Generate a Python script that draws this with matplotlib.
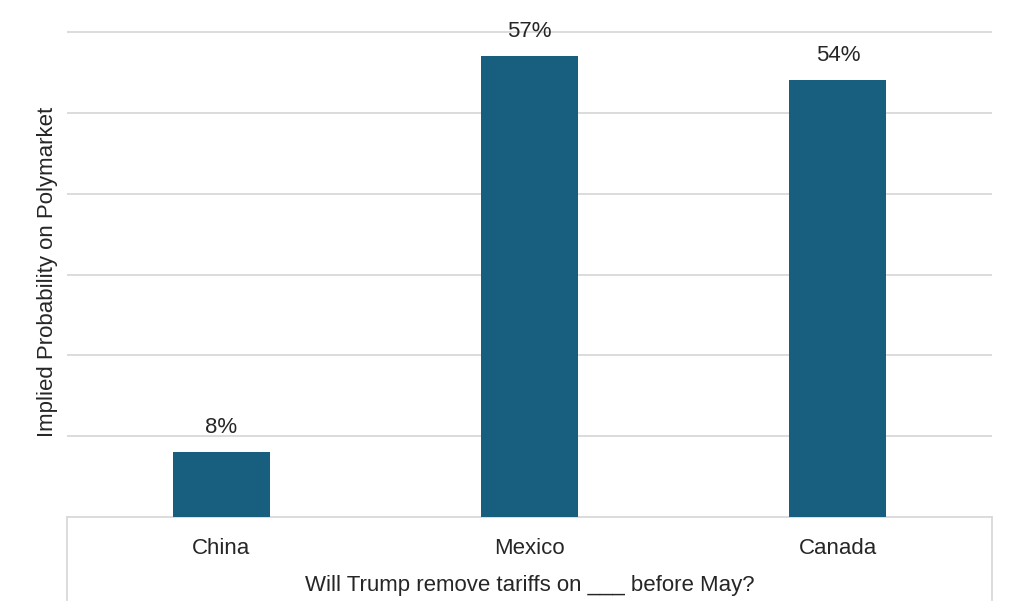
import matplotlib.pyplot as plt
from matplotlib.lines import Line2D

plt.rcParams['font.family'] = ['Liberation Sans', 'DejaVu Sans']

# Data
countries = ['China', 'Mexico', 'Canada']
probabilities = [0.08, 0.57, 0.54]
labels = ['8%', '57%', '54%']

bar_color = '#175E7F'
grid_color = '#D9D9D9'
text_color = '#262626'

# axes spans 0..0.61 (60% gridline sits at pixel row 32)
px_per_unit = (517 - 32) / 0.6
top_px = 517 - 0.61 * px_per_unit

fig = plt.figure(figsize=(10.24, 6.15), dpi=100)
fig.set_facecolor('white')
ax = fig.add_axes([67 / 1024, 1 - 517 / 615, (992 - 67) / 1024, (517 - top_px) / 615])

x = range(len(countries))
ax.bar(x, probabilities, width=0.315, color=bar_color, zorder=3)

ax.set_xlim(-0.5, 2.5)
ax.set_ylim(0, 0.61)
ax.set_yticks([0.1, 0.2, 0.3, 0.4, 0.5, 0.6])
ax.set_yticklabels([])
ax.tick_params(axis='y', length=0)
ax.tick_params(axis='x', length=0, pad=15, labelsize=16, labelcolor=text_color)
ax.set_xticks(list(x))
ax.set_xticklabels(countries)
ax.grid(axis='y', color=grid_color, linewidth=1.3, zorder=0)

for spine in ['top', 'left', 'right']:
    ax.spines[spine].set_visible(False)
ax.spines['bottom'].set_color(grid_color)
ax.spines['bottom'].set_linewidth(1.3)

# value labels above bars
for xi, val, lab in zip(x, probabilities, labels):
    ax.text(xi, val + 0.018, lab, ha='center', va='bottom', fontsize=16,
            color=text_color, clip_on=False)

ax.set_ylabel('Implied Probability on Polymarket', fontsize=16, color=text_color,
              va='center')
ax.yaxis.set_label_coords((48 - 67) / 925, (517 - 272) / (517 - top_px))

# box below axis (table style)
for xf in [67 / 1024, 992 / 1024]:
    fig.add_artist(Line2D([xf, xf], [1 - 517 / 615, 1 - 600 / 615],
                          color=grid_color, linewidth=1.3))

fig.text(530 / 1024, 1 - 586 / 615, 'Will Trump remove tariffs on ___ before May?',
         ha='center', va='center', fontsize=16, color=text_color)

fig.savefig('out.png', dpi=100)
